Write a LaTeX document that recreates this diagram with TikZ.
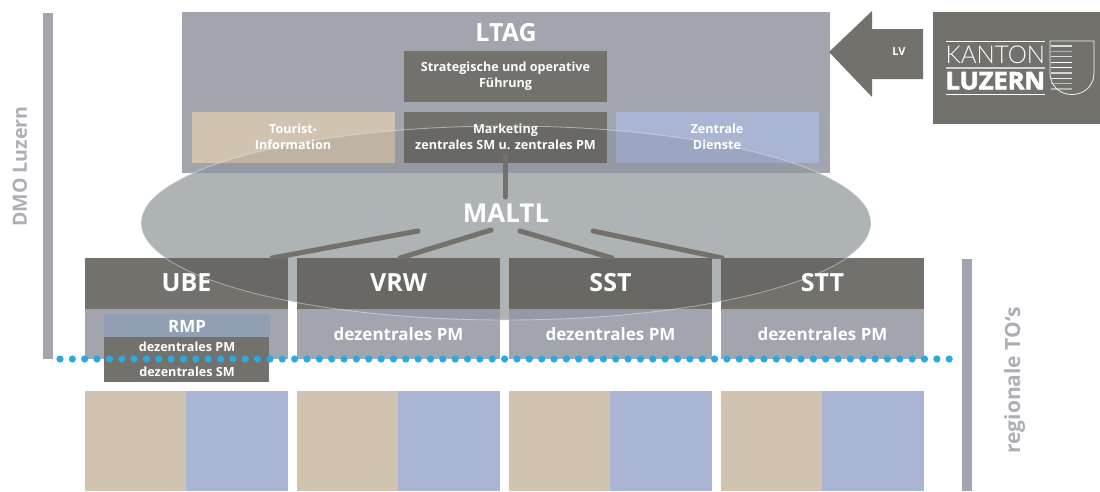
\documentclass[tikz,border=0pt]{standalone}
\usepackage{fontspec}
\usepackage{graphicx}
\setmainfont{Open Sans}
\newfontfamily\logolight{Lato Light}
\newfontfamily\logoheavy[FakeBold=3]{Open Sans Bold}
\definecolor{lightbox}{HTML}{A2A5AE}
\definecolor{lightboxd}{HTML}{9599A4}
\definecolor{darkbox}{HTML}{72716C}
\definecolor{darkboxd}{HTML}{696864}
\definecolor{ell}{HTML}{AEB3B5}
\definecolor{tan}{HTML}{D0C4B0}
\definecolor{tand}{HTML}{BFB3A2}
\definecolor{blu}{HTML}{A9B5D3}
\definecolor{blud}{HTML}{9CA6C2}
\definecolor{dots}{HTML}{29ABE2}
\definecolor{rmp}{HTML}{929EB2}
\definecolor{sidetxt}{HTML}{ACAFB5}
\tikzset{
  conn/.style={draw=darkbox,line width=5pt,line cap=round},
  sidebar/.style={fill=lightbox,draw=none},
  sidetext/.style={text=sidetxt,anchor=base,inner sep=0pt,rotate=90},
  lbl/.style={text=white,align=center,font=\bfseries\fontsize{12.6}{16}\selectfont},
  hd/.style={text=white,font=\bfseries\fontsize{25}{28}\selectfont},
  pm/.style={text=white,font=\bfseries\fontsize{17}{20}\selectfont},
  smalllbl/.style={text=white,font=\bfseries\fontsize{12.6}{15}\selectfont},
  stripe/.style={line width=1.2pt},
}
\newcommand{\boxat}[5]{\path[fill=#5] (#1,#2) rectangle +(#3,#4);}
\newcommand{\allboxes}[4]{% ltag,dark,tan,blue
  \boxat{182}{12}{648}{161}{#1}
  \boxat{404}{51}{203}{51}{#2}
  \boxat{192}{112}{203}{51}{#3}
  \boxat{404}{112}{203}{51}{#2}
  \boxat{616}{112}{203}{51}{#4}
  \foreach \bxx in {85,297,509,721}{
    \boxat{\bxx}{258}{203}{51}{#2}
    \boxat{\bxx}{309}{203}{50}{#1}
  }
}
\begin{document}
\begin{tikzpicture}[x=1pt,y=-1pt]
\useasboundingbox (0,0) rectangle (1100,491);
% side bars
\path[sidebar] (43,13) rectangle (53,359);
\path[sidebar] (962,259) rectangle (972,491);
\node[sidetext,font=\bfseries\fontsize{19.6}{22}\selectfont] (dmo) at (27,166.5) {DMO Luzern};
\node[sidetext,font=\bfseries\fontsize{21}{24}\selectfont] (reg) at (1020,380.5) {regionale TO‘s};
% ellipse
\path[fill=ell] (506,223) ellipse [x radius=365,y radius=97];
% boxes
\allboxes{lightbox}{darkbox}{tan}{blu}
\begin{scope}
  \clip (506,223) ellipse [x radius=365,y radius=97];
  \allboxes{lightboxd}{darkboxd}{tand}{blud}
  \path[fill=ell] (182,173) rectangle (830,258);
\end{scope}
\draw[white,opacity=.4,line width=.9pt] (506,223) ellipse [x radius=365,y radius=97];
% RMP box
\path[fill=rmp] (104,314) rectangle (270,337);
\path[fill=darkbox] (104,337) rectangle (269,382);
% bottom
\foreach \bxx in {85,297,509,721}{
  \path[fill=tan] (\bxx,391) rectangle +(101,100);
  \path[fill=blu] (\bxx+101,391) rectangle +(102,100);
}
% connectors
\coordinate (mkt) at (505,156);
\coordinate (mt) at (505,197);
\coordinate (m1) at (418,231);
\coordinate (m2) at (491,230);
\coordinate (m3) at (520,231);
\coordinate (m4) at (593,231);
\coordinate (ube) at (272,258);
\coordinate (vrw) at (400,258);
\coordinate (sst) at (612,258);
\coordinate (stt) at (722,258);
\begin{scope}
\clip (0,0) rectangle (1100,258);
\draw[conn] (mkt) -- (mt);
\draw[conn] (m1) -- (ube);
\draw[conn] (m2) -- (vrw);
\draw[conn] (m3) -- (sst);
\draw[conn] (m4) -- (stt);
\end{scope}
% labels
\node[text=white,font=\bfseries\fontsize{25}{28}\selectfont] (ltag) at (506,33) {LTAG};
\node[lbl] (sf) at (505.5,76) {Strategische und operative\\Führung};
\node[lbl] (ti) at (293,137) {Tourist-\\Information};
\node[lbl] (mk) at (505.5,137) {Marketing\\zentrales SM u. zentrales PM};
\node[lbl] (zd) at (717,137) {Zentrale\\Dienste};
\node[text=white,font=\bfseries\fontsize{26}{30}\selectfont] (maltl) at (506,213) {MALTL};
\foreach \nm/\txt/\cx in {a/UBE/186.5,b/VRW/398.5,c/SST/610.5,d/STT/822.5}{
  \node[hd] (t\nm) at (\cx,283) {\txt};
}
\foreach \nm/\cx in {b/398.5,c/610.5,d/822.5}{
  \node[pm] (p\nm) at (\cx,334) {dezentrales PM};
}
\node[pm] (rmpt) at (187,326) {RMP};
\node[smalllbl] (dpm) at (187,346.5) {dezentrales PM};
\node[smalllbl] (dsm) at (187,371.5) {dezentrales SM};
% dots
\foreach \i in {0,...,72}{
  \path[fill=dots] (60+\i*12.35,359) circle (3.6);
}
% LV arrow
\path[fill=darkbox] (829,52) -- (872,11) -- (872,29) -- (923,29) -- (923,79) -- (872,79) -- (872,97) -- cycle;
\node[text=white,font=\bfseries\fontsize{11}{13}\selectfont] (lv) at (899,52) {LV};
% logo
\path[fill=darkbox] (933,12) rectangle (1100,124);
\path[fill=white] (945.5,40.7) rectangle (1045,41.6);
\path[fill=white!70!darkbox] (945.5,66.8) rectangle (1045,68.8);
\path[fill=white] (945.5,93.8) rectangle (1045,94.7);
\node[text=white,inner sep=0pt] (kanton) at (995.3,54.5) {\resizebox{99.5pt}{17.6pt}{\logolight KANTON}};
\node[text=white,inner sep=0pt] (luzern) at (995.3,80.8) {\resizebox{99.5pt}{17.2pt}{\logoheavy LUZERN}};
\foreach \sy/\sc in {46/75,51.7/45,56.7/75,62.3/100,67.7/100,73/70,78.3/85,83.7/55,89/45}{
  \draw[stripe,white!\sc!darkbox] (1051,\sy) -- (1072,\sy);
}
\draw[white!90!darkbox,line width=.8pt] (1050,41) -- (1094,41) -- (1094,73)
  .. controls (1094,86) and (1084,94.5) .. (1072,94.5)
  .. controls (1060,94.5) and (1050,86) .. (1050,73) -- cycle;
\end{tikzpicture}
\end{document}
